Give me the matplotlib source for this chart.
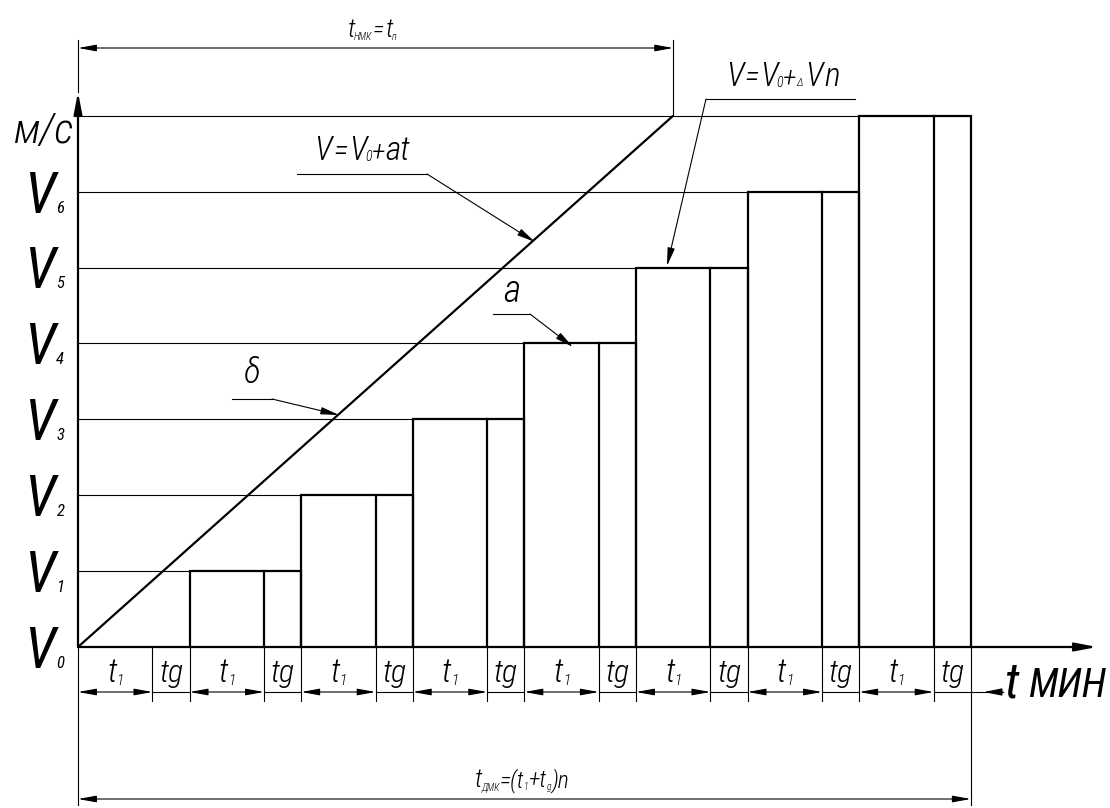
import matplotlib
matplotlib.use("Agg")
import matplotlib.pyplot as plt
from matplotlib import font_manager as fm

# ---------------- data ----------------
n_steps = 8
t1_durations = [2.0, 2.0, 2.0, 2.0, 2.0, 2.0, 2.0, 2.0]   # working time at each speed
tg_durations = [1.0, 1.0, 1.0, 1.0, 1.0, 1.0, 1.0, 1.0]   # pause time
step_levels = [0, 1, 2, 3, 4, 5, 6, 7]                    # speed level of each step
level_labels = ["0", "1", "2", "3", "4", "5", "6"]         # V0..V6 subscripts
top_unit_label = "м/с"
ramp_t = [0.0, 16.0]                                       # V = V0 + a t
ramp_v = [0.0, 7.0]

# ---------------- font choice (narrow, italic) ----------------
_names = {f.name for f in fm.fontManager.ttflist}
_dv_cond = any(f.name == "DejaVu Sans" and str(f.stretch) in ("condensed", "semi-condensed")
               for f in fm.fontManager.ttflist)
if "Liberation Sans Narrow" in _names:
    FAM, STRETCH = ["Liberation Sans Narrow", "DejaVu Sans"], "normal"
elif "Roboto Condensed" in _names:
    FAM, STRETCH = ["Roboto Condensed", "DejaVu Sans"], "normal"
elif _dv_cond:
    FAM, STRETCH = ["DejaVu Sans"], "condensed"
else:
    FAM, STRETCH = ["Liberation Sans", "DejaVu Sans"], "normal"

# ---------------- figure / scales ----------------
W, H, DPI = 1110, 808, 100
OX, OY = 78.0, 647.0      # origin pixel
SX, SY = 37.2, 75.9       # pixels per data unit
fig = plt.figure(figsize=(W / DPI, H / DPI), dpi=DPI)
ax = fig.add_axes([0, 0, 1, 1])
ax.set_xlim(-OX / SX, (W - OX) / SX)
ax.set_ylim((OY - H) / SY, OY / SY)
ax.axis("off")

def DX(px):
    return (px - OX) / SX

def DY(py):
    return (OY - py) / SY

THICK = 1.6
THIN = 0.8
K = "black"

renderer = fig.canvas.get_renderer()

def rich(x, y, runs, ha="center", weight="light"):
    """runs: (text, size, dx_pt, dy_pt) placed sequentially on a baseline."""
    items = []
    for s, size, dx, dy in runs:
        t = ax.annotate(s, (x, y), xytext=(0, dy), textcoords="offset points",
                        fontsize=size, family=FAM, stretch=STRETCH, style="italic",
                        weight=weight, ha="left", va="baseline", color=K)
        w = t.get_window_extent(renderer).width * 72.0 / DPI
        items.append((t, w, dx, dy))
    total = sum(w + dx for _, w, dx, _ in items)
    cur = -total / 2 if ha == "center" else (-total if ha == "right" else 0.0)
    for t, w, dx, dy in items:
        cur += dx
        t.xyann = (cur, dy)
        cur += w

def arrow(tip, tail, lw=THIN, hl=1.1, hw=0.22):
    ax.annotate("", xy=tip, xytext=tail,
                arrowprops=dict(arrowstyle=f"-|>,head_length={hl},head_width={hw}",
                                lw=lw, color=K, shrinkA=0, shrinkB=0,
                                mutation_scale=10))

def dim(a, b, lw=THIN):
    ax.annotate("", xy=b, xytext=a,
                arrowprops=dict(arrowstyle="<|-|>,head_length=1.1,head_width=0.2",
                                lw=lw, color=K, shrinkA=0, shrinkB=0,
                                mutation_scale=10))

# ---------------- step boundaries ----------------
starts, t1_ends, ends = [], [], []
cur = 0.0
for a, b in zip(t1_durations, tg_durations):
    starts.append(cur)
    t1_ends.append(cur + a)
    ends.append(cur + a + b)
    cur += a + b
total_t = cur

# horizontal level lines (thin) from axis to the bar of that level
for s, lev in zip(starts, step_levels):
    if lev > 0:
        ax.plot([0, s], [lev, lev], color=K, lw=THIN, solid_capstyle="butt")

# bars (thick outlines)
for s, m, e, lev in zip(starts, t1_ends, ends, step_levels):
    if lev > 0:
        ax.plot([s, s, e, e], [0, lev, lev, 0], color=K, lw=THICK,
                solid_joinstyle="miter")
        ax.plot([m, m], [0, lev], color=K, lw=THICK)

# ramp line
ax.plot(ramp_t, ramp_v, color=K, lw=THICK, solid_capstyle="butt")

# axes with arrows
arrow((0, DY(92)), (0, 0), lw=THICK, hl=1.3, hw=0.25)
ax.plot([0, 0], [DY(92), DY(40)], color=K, lw=THIN)
arrow((DX(1097), 0), (0, 0), lw=THICK, hl=1.3, hw=0.25)

# ---------------- top dimension  t_НМК = t_п ----------------
ax.plot([ramp_t[1], ramp_t[1]], [ramp_v[1], DY(40)], color=K, lw=THIN)
dim((0, DY(48)), (ramp_t[1], DY(48)))
rich(DX(372), DY(37), [("t", 19, 0, 0), ("НМК", 7, -1, -2), ("=", 17, 1, 0),
                       ("t", 19, 1, 0), ("п", 7, -1, -2)])

# ---------------- below-axis time marks ----------------
bounds = sorted(set([0.0] + t1_ends + ends))
for b in bounds:
    y_end = DY(805) if b in (0.0, total_t) else DY(701)
    ax.plot([b, b], [0, y_end], color=K, lw=THIN)

y_dim = DY(692)
for s, m, e in zip(starts, t1_ends, ends):
    dim((s, y_dim), (m, y_dim))
    ax.plot([m, e], [y_dim, y_dim], color=K, lw=THIN)
    rich((s + m) / 2, DY(682), [("t", 24, 0, 0), ("1", 11, 0, -2)])
    rich((m + e) / 2, DY(682), [("tg", 23, 0, 0)])
ax.plot([total_t, DX(1003)], [y_dim, y_dim], color=K, lw=THIN)
arrow((total_t + 0.35, y_dim), (DX(1003), y_dim))

rich(DX(1106), DY(697), [("t", 36, 0, 0), ("МИН", 29, 7, 0)], ha="right",
     weight="normal")

# bottom dimension  t_ДМК = (t1+tg) n
dim((0, DY(799)), (total_t, DY(799)))
rich(DX(522), DY(787), [("t", 19, 0, 0), ("ДМК", 7, -1, -2), ("=(t", 17, 0, 0),
                        ("1", 7, 0, -2), ("+t", 17, 0, 0), ("g", 7, 0, -2),
                        (")n", 17, 0, 0)])

# ---------------- level labels ----------------
for lab, lev in zip(level_labels, step_levels):
    rich(DX(24), lev - 21 / SY, [("V", 41, 0, 0), (lab, 12, 1, 0)], ha="left",
         weight="normal")
ax.text(DX(44), DY(131), top_unit_label, fontsize=31, family=FAM, stretch=STRETCH,
        style="italic", weight="light", ha="center", va="center", color=K)

# ---------------- leaders ----------------
# V = V0 + a t
rich(DX(362), DY(160), [("V", 24, 0, 0), ("=", 22, 1, 0), ("V", 24, 1, 0),
                        ("0", 10, -1, -1), ("+", 20, 0, 0), ("at", 24, 0, 0)])
ax.plot([DX(297), DX(427)], [DY(174), DY(174)], color=K, lw=THIN)
arrow((DX(535), DY(242)), (DX(427), DY(174)))

# V = V0 + ΔV n
rich(DX(783), DY(86), [("V", 24, 0, 0), ("=", 22, 1, 0), ("V", 24, 1, 0),
                       ("0", 10, -1, -1), ("+", 20, 0, 0), ("Δ", 8, 0, 0),
                       ("V", 24, 2, 0), ("n", 24, 1, 0)])
ax.plot([DX(706), DX(855)], [DY(99), DY(99)], color=K, lw=THIN)
arrow((DX(667), DY(266)), (DX(706), DY(99)))

# δ
rich(DX(252), DY(383), [("δ", 25, 0, 0)])
ax.plot([DX(232), DX(272)], [DY(399), DY(399)], color=K, lw=THIN)
arrow((DX(339), DY(415)), (DX(272), DY(399)))

# a
rich(DX(512), DY(302), [("a", 27, 0, 0)])
ax.plot([DX(493), DX(530)], [DY(314), DY(314)], color=K, lw=THIN)
arrow((DX(573), DY(347)), (DX(530), DY(314)))

fig.savefig("out.png", dpi=DPI, facecolor="white")
